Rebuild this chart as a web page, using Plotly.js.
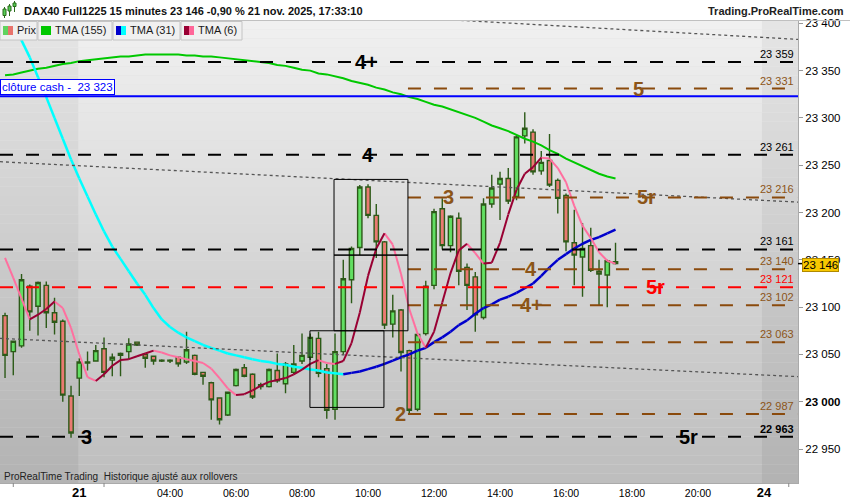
<!DOCTYPE html>
<html><head><meta charset="utf-8">
<script src="https://cdn.plot.ly/plotly-3.0.1.min.js"></script>
<style>html,body{margin:0;padding:0;background:#fff}#chart{width:850px;height:500px}</style>
</head><body><div id="chart"></div>
<script>
// ---------- DATA ----------
// bar index: 0 = first 15-min bar of 21 Nov (01:15); negative = end of 20 Nov session
const barIndex = [-9,-8,-7,-6,-5,-4,-3,-2,-1,0,1,2,3,4,5,6,7,8,9,10,11,12,13,14,15,16,17,18,19,20,21,22,23,24,25,26,27,28,29,30,31,32,33,34,35,36,37,38,39,40,41,42,43,44,45,46,47,48,49,50,51,52,53,54,55,56,57,58,59,60,61,62,63,64,65];
const openP = [23091,23053,23059,23122,23101,23123,23094,23085,23006,
 23025,23041,23043,23056,23044,23051,23053,23063,23050,23048,
 23043,23044,23047,23042,23049,23031,23020,23004,22986,23017,
 23036,23029,23016,23016,23033,23019,23031,23043,23047,23067,
 23035,22992,23053,23129,23163,23227,23197,23169,23082,23097,
 23054,22992,23072,23123,23204,23165,23194,23142,23132,23089,
 23209,23230,23236,23217,23281,23285,23244,23255,23234,23218,
 23168,23153,23165,23138,23134,23148];
const highP = [23094,23064,23135,23124,23127,23127,23110,23087,23017,
 23046,23053,23060,23068,23051,23052,23067,23063,23051,23049,
 23045,23045,23047,23074,23050,23031,23021,23004,23010,23035,
 23040,23030,23020,23035,23051,23042,23060,23072,23072,23074,
 23040,23072,23150,23164,23229,23230,23209,23170,23113,23098,
 23055,23072,23128,23204,23215,23197,23200,23146,23137,23215,
 23240,23243,23247,23282,23306,23288,23265,23283,23236,23220,
 23203,23189,23184,23150,23150,23168];
const lowP = [23025,23028,23057,23075,23070,23078,23071,23000,22962,
 23006,23033,23043,23026,23027,23027,23045,23059,23036,23039,
 23042,23041,23037,23040,23028,23018,22981,22976,22985,23016,
 23026,23003,23013,23015,23020,23009,23029,23040,23044,23026,
 22982,22981,23050,23104,23155,23194,23152,23077,23068,23032,
 22986,22990,23070,23119,23161,23158,23123,23097,23074,23087,
 23205,23192,23209,23213,23273,23240,23240,23227,23199,23159,
 23123,23111,23137,23102,23100,23145];
const closeP = [23049,23064,23129,23095,23126,23094,23084,23007,22967,
 23042,23042,23054,23031,23047,23049,23061,23060,23046,23043,
 23044,23043,23040,23055,23029,23027,23002,22981,23010,23034,
 23027,23005,23018,23034,23022,23040,23040,23049,23068,23030,
 22991,23053,23130,23162,23227,23197,23169,23081,23096,23052,
 22991,23071,23122,23201,23165,23196,23138,23123,23092,23209,
 23226,23236,23212,23280,23289,23243,23253,23229,23215,23169,
 23155,23162,23139,23135,23149,23146];
const tma155 = [23345,23346,23348,23350,23352,23353,23355,23357,23358,
 23360,23361,23362,23363,23364,23365,23365,23366,23367,23367,
 23367,23367,23367,23366,23366,23365,23365,23364,23363,23362,
 23361,23360,23359,23358,23356,23355,23353,23351,23350,23347,
 23346,23344,23342,23339,23337,23335,23332,23330,23327,23325,
 23322,23320,23317,23314,23312,23309,23306,23303,23300,23296,
 23292,23289,23286,23282,23278,23275,23271,23266,23262,23257,
 23253,23249,23245,23241,23238,23236];
const tma31 = [23430,23404,23382,23364,23343,23322,23300,23278,23256,
 23236,23217,23198,23180,23164,23151,23138,23125,23113,23099,
 23087,23079,23073,23068,23064,23060,23057,23054,23051,23049,
 23047,23045,23043,23042,23040,23039,23037,23036,23034,23033,
 23031,23030,23029,23030.5,23032,23034.5,23037,23040,23043.5,23047,
 23050,23054,23057,23063,23068,23074,23081,23086,23093,23099,
 23103,23108,23111,23115,23120,23125,23133,23142,23150,23156,
 23162,23167,23171,23174,23178,23182];
const tma6 = [23152,23131,23109,23087,23092,23098,23106,23099,23078,
 23050,23026,23022,23029,23038,23044,23045,23048,23051,23054,
 23052,23049,23047,23045,23043,23041,23035,23025,23014,23007,
 23008,23012,23017,23021,23023,23025,23029,23034,23040,23044,
 23041,23040,23043,23062,23094,23133,23162,23178,23166,23135,
 23098,23072,23057,23074,23105,23136,23160,23167,23157,23146,
 23147,23168,23198,23224,23241,23248,23258,23257,23247,23232,
 23207,23186,23173,23158,23149,23146];

const tickIdx  = [0, 11, 19, 27, 35, 43, 51, 59, 67, 75, 83];
const tickText = ['21','04:00','06:00','08:00','10:00','12:00','14:00','16:00','18:00','20:00','24'];
const minorTickIdx = [-8, 3, 86];
const yTicks = [22950,23000,23050,23100,23150,23200,23250,23300,23350,23400];

const levelsBlack = [23359, 23261, 23161, 22963];
const levelsBrown = [23331, 23216, 23140, 23102, 23063, 22987];
const levelsRed   = [23121];
const clotureCash = 23323;
const lastPrice = 23146;
const brownStart = 39.84;
// drawn rectangles [x0, x1, p0, p1]
const boxes = [[27.96,36.93,22994,23075],[30.88,39.84,23075,23155],[30.88,39.84,23155,23235]];
// dotted trend lines [x0, p0, x1, p1]
const trendLines = [[-9.61,23067,87.12,23026.5],[-9.61,23253.7,87.12,23211],[45.5,23403.5,87.12,23383]];
// wave labels
const waveText  = ['4+','4','3','5r','2','3','4','4+','5','5r','5r'];
const waveX     = [34.8,35,0.9,73.8,38.9,44.8,54.8,54.8,67.8,68.8,69.8];
const waveLevel = [23359,23261,22963,22963,22987,23216,23140,23102,23331,23216,23121];
const waveKind  = ['k','k','k','k','b','b','b','b','b','b','r'];

// ---------- LAYOUT HELPERS ----------
const W=850,H=500,ML=0,MR=52,MT=20,MB=17;
const PW=W-ML-MR, PH=H-MT-MB;
const xr=[-9.61,87.12], yr=[22914.1,23403.5];
const px = x => (x-ML)/PW;
const py = y => (H-MB-y)/PH;
const ix = i => (i-xr[0])/(xr[1]-xr[0]);
const fmt = v => String(v).replace(/\B(?=(\d{3})+(?!\d))/g,' ');
const FONT = 'Liberation Sans, Arial, sans-serif';
const BROWN = '#8a4a0c', BROWNT='#8c5518', RED='#ff0000';
const colorOf = k => k==='k' ? '#000000' : (k==='b' ? BROWNT : RED);

const shapes=[], ann=[];
// background gradient
const N=50, sess0=-0.12, sess1=82.75;
for(let k=0;k<N;k++){
  const t=(k+0.5)/N;
  const g=Math.round(241-52*t), gd=g-11;
  const y1=yr[1]-(yr[1]-yr[0])*k/N, y0=yr[1]-(yr[1]-yr[0])*(k+1)/N;
  shapes.push({type:'rect',xref:'x',yref:'y',x0:xr[0],x1:xr[1],y0:y0,y1:y1,fillcolor:`rgb(${g},${g},${g})`,line:{width:0},layer:'below'});
  shapes.push({type:'rect',xref:'x',yref:'y',x0:xr[0],x1:sess0,y0:y0,y1:y1,fillcolor:`rgb(${gd},${gd},${gd})`,line:{width:0},layer:'below'});
  shapes.push({type:'rect',xref:'x',yref:'y',x0:sess1,x1:xr[1],y0:y0,y1:y1,fillcolor:`rgb(${gd},${gd},${gd})`,line:{width:0},layer:'below'});
}
// trend lines
trendLines.forEach(l=>shapes.push({type:'line',xref:'x',yref:'y',x0:l[0],y0:l[1],x1:l[2],y1:l[3],line:{color:'#555',width:1.3,dash:'3px,3px'}}));
// levels
levelsBlack.forEach(v=>shapes.push({type:'line',xref:'x',yref:'y',x0:xr[0],x1:xr[1],y0:v,y1:v,line:{color:'#000',width:2,dash:'13px,13px'}}));
levelsRed.forEach(v=>shapes.push({type:'line',xref:'x',yref:'y',x0:xr[0],x1:xr[1],y0:v,y1:v,line:{color:RED,width:2,dash:'13px,13px'}}));
levelsBrown.forEach(v=>shapes.push({type:'line',xref:'x',yref:'y',x0:brownStart,x1:xr[1],y0:v,y1:v,line:{color:BROWN,width:2,dash:'13px,13px'}}));
shapes.push({type:'line',xref:'x',yref:'y',x0:xr[0],x1:xr[1],y0:clotureCash,y1:clotureCash,line:{color:'#0000ff',width:2}});
boxes.forEach(b=>shapes.push({type:'rect',xref:'x',yref:'y',x0:b[0],x1:b[1],y0:b[2],y1:b[3],line:{color:'#000',width:1}}));
// right-side level labels
const lvlLabel=(v,c,bold)=>ann.push({xref:'x',yref:'y',x:86.75,y:v,xanchor:'right',yanchor:'bottom',showarrow:false,
  text:bold?'<b>'+fmt(v)+'</b>':fmt(v),font:{family:FONT,size:11,color:c},borderpad:0,yshift:1});
levelsBlack.forEach(v=>lvlLabel(v,'#000',v===22963));
levelsBrown.forEach(v=>lvlLabel(v,BROWNT,false));
levelsRed.forEach(v=>lvlLabel(v,RED,false));
// wave labels
waveText.forEach((t,i)=>ann.push({xref:'x',yref:'y',x:waveX[i],y:waveLevel[i],text:'<b>'+t+'</b>',showarrow:false,
  xanchor:'center',yanchor:'middle',font:{family:FONT,size:20,color:colorOf(waveKind[i])}}));
// cloture cash tag
ann.push({xref:'paper',yref:'y',x:0,y:clotureCash,xanchor:'left',yanchor:'bottom',yshift:1,showarrow:false,
  text:'clôture cash -  '+fmt(clotureCash),font:{family:FONT,size:11.5,color:'#0000ff'},bgcolor:'#fff',bordercolor:'#0000ff',borderwidth:1,borderpad:1});
// price tag
ann.push({xref:'paper',yref:'y',x:1,y:lastPrice,xanchor:'left',yanchor:'middle',xshift:4,yshift:-1,showarrow:false,
  text:fmt(lastPrice),font:{family:FONT,size:11.5,color:'#000'},bgcolor:'#f8c800',bordercolor:'#b08a00',borderwidth:1,borderpad:0});
shapes.push({type:'line',xref:'paper',yref:'y',x0:1,x1:1+5/PW,y0:lastPrice,y1:lastPrice,line:{color:'#000',width:1.5}});
// minor x ticks
minorTickIdx.forEach(i=>shapes.push({type:'line',xref:'paper',yref:'paper',x0:ix(i),x1:ix(i),y0:0,y1:-4/PH,line:{color:'#888',width:1}}));
// header
shapes.push({type:'line',xref:'paper',yref:'paper',x0:0,x1:1+MR/PW,y0:py(20.5),y1:py(20.5),line:{color:'#c0c0c0',width:1}});
ann.push({xref:'paper',yref:'paper',x:px(22),y:py(11),xanchor:'left',yanchor:'middle',showarrow:false,
  text:'<b>DAX40 Full1225 15 minutes 23 146 -0,90 % 21 nov. 2025, 17:33:10</b>',font:{family:FONT,size:11,color:'#111'}});
ann.push({xref:'paper',yref:'paper',x:px(846),y:py(11),xanchor:'right',yanchor:'middle',showarrow:false,
  text:'<b>Trading.ProRealTime.com</b>',font:{family:FONT,size:11,color:'#222'}});
// header icon
[[3,9,13,18],[8,6,10,16],[13,3,7,12]].forEach(c=>{
  shapes.push({type:'line',xref:'paper',yref:'paper',x0:px(c[0]+1.5),x1:px(c[0]+1.5),y0:py(c[3]),y1:py(c[1]-2),line:{color:'#2a6a1a',width:1}});
  shapes.push({type:'rect',xref:'paper',yref:'paper',x0:px(c[0]),x1:px(c[0]+3),y0:py(c[1]+c[2]/2),y1:py(c[1]),fillcolor:'#55cc55',line:{color:'#2a6a1a',width:1}});
});
// legend row
const legBoxes=[[0,37,'Prix',['#5fd35f','#e8736c']],[38,112,'TMA (155)',['#00c800','#00c800']],[113,180,'TMA (31)',['#0000cc','#00ffff']],[181,242,'TMA (6)',['#990033','#ff6699']]];
legBoxes.forEach(b=>{
  shapes.push({type:'rect',xref:'paper',yref:'paper',x0:px(b[0]),x1:px(b[1]),y0:py(40),y1:py(21.5),fillcolor:'#f0f0f0',line:{color:'#c4c4c4',width:1}});
  shapes.push({type:'rect',xref:'paper',yref:'paper',x0:px(b[0]+3),x1:px(b[0]+8),y0:py(35),y1:py(26),fillcolor:b[3][0],line:{width:0}});
  shapes.push({type:'rect',xref:'paper',yref:'paper',x0:px(b[0]+8),x1:px(b[0]+13),y0:py(35),y1:py(26),fillcolor:b[3][1],line:{width:0}});
  ann.push({xref:'paper',yref:'paper',x:px(b[0]+15),y:py(30.5),xanchor:'left',yanchor:'middle',showarrow:false,text:b[2],font:{family:FONT,size:11,color:'#1a1a1a'}});
});
// footer
ann.push({xref:'paper',yref:'paper',x:px(2),y:py(476),xanchor:'left',yanchor:'middle',showarrow:false,
  text:'ProRealTime Trading  Historique ajusté aux rollovers',font:{family:FONT,size:10,color:'#222'}});

// ---------- TRACES ----------
function splitColor(x,y,upC,dnC,w){
  const up={x:[],y:[]}, dn={x:[],y:[]};
  for(let i=0;i<x.length-1;i++){
    const t = y[i+1]>=y[i]?up:dn;
    t.x.push(x[i],x[i+1],null); t.y.push(y[i],y[i+1],null);
  }
  return [
    {type:'scatter',mode:'lines',x:dn.x,y:dn.y,line:{color:dnC,width:w},hoverinfo:'skip',connectgaps:false},
    {type:'scatter',mode:'lines',x:up.x,y:up.y,line:{color:upC,width:w},hoverinfo:'skip',connectgaps:false}
  ];
}
const traces=[
  {type:'candlestick',x:barIndex,open:openP,high:highP,low:lowP,close:closeP,
   increasing:{line:{color:'#2c5a18',width:1.4},fillcolor:'#62df62'},
   decreasing:{line:{color:'#2c5a18',width:1.4},fillcolor:'#ea7a72'},
   whiskerwidth:0,hoverinfo:'skip'},
  {type:'scatter',mode:'lines',x:barIndex,y:tma155,line:{color:'#00c800',width:2},hoverinfo:'skip'},
  ...splitColor(barIndex,tma31,'#0000cc','#00ffff',2.5),
  ...splitColor(barIndex,tma6,'#990033','#ff6f9f',2)
];

const layout={
  width:W,height:H,margin:{l:ML,r:MR,t:MT,b:MB},
  paper_bgcolor:'#ffffff',plot_bgcolor:'#dddddd',showlegend:false,
  font:{family:FONT,size:11,color:'#000'},
  boxgap:0.25,
  xaxis:{range:xr,showgrid:false,zeroline:false,rangeslider:{visible:false},
    tickvals:tickIdx,ticktext:tickText.map((t,i)=>(i===0||i===tickText.length-1)?'<span style="font-size:13px"><b>'+t+'</b></span>':t),
    ticks:'',tickfont:{family:FONT,size:10.5,color:'#000'},showline:true,linecolor:'#aaaaaa',linewidth:1,fixedrange:true},
  yaxis:{range:yr,side:'right',showgrid:false,zeroline:false,
    tickvals:yTicks,ticktext:yTicks.map(v=>v===23000?'<b>'+fmt(v)+'</b>':fmt(v)),
    ticks:'outside',ticklen:4,tickcolor:'#999',tickfont:{family:FONT,size:11.5,color:'#000'},
    showline:true,linecolor:'#aaaaaa',linewidth:1,fixedrange:true},
  shapes:shapes,annotations:ann
};
Plotly.newPlot('chart',traces,layout,{displayModeBar:false,staticPlot:true});
</script></body></html>
